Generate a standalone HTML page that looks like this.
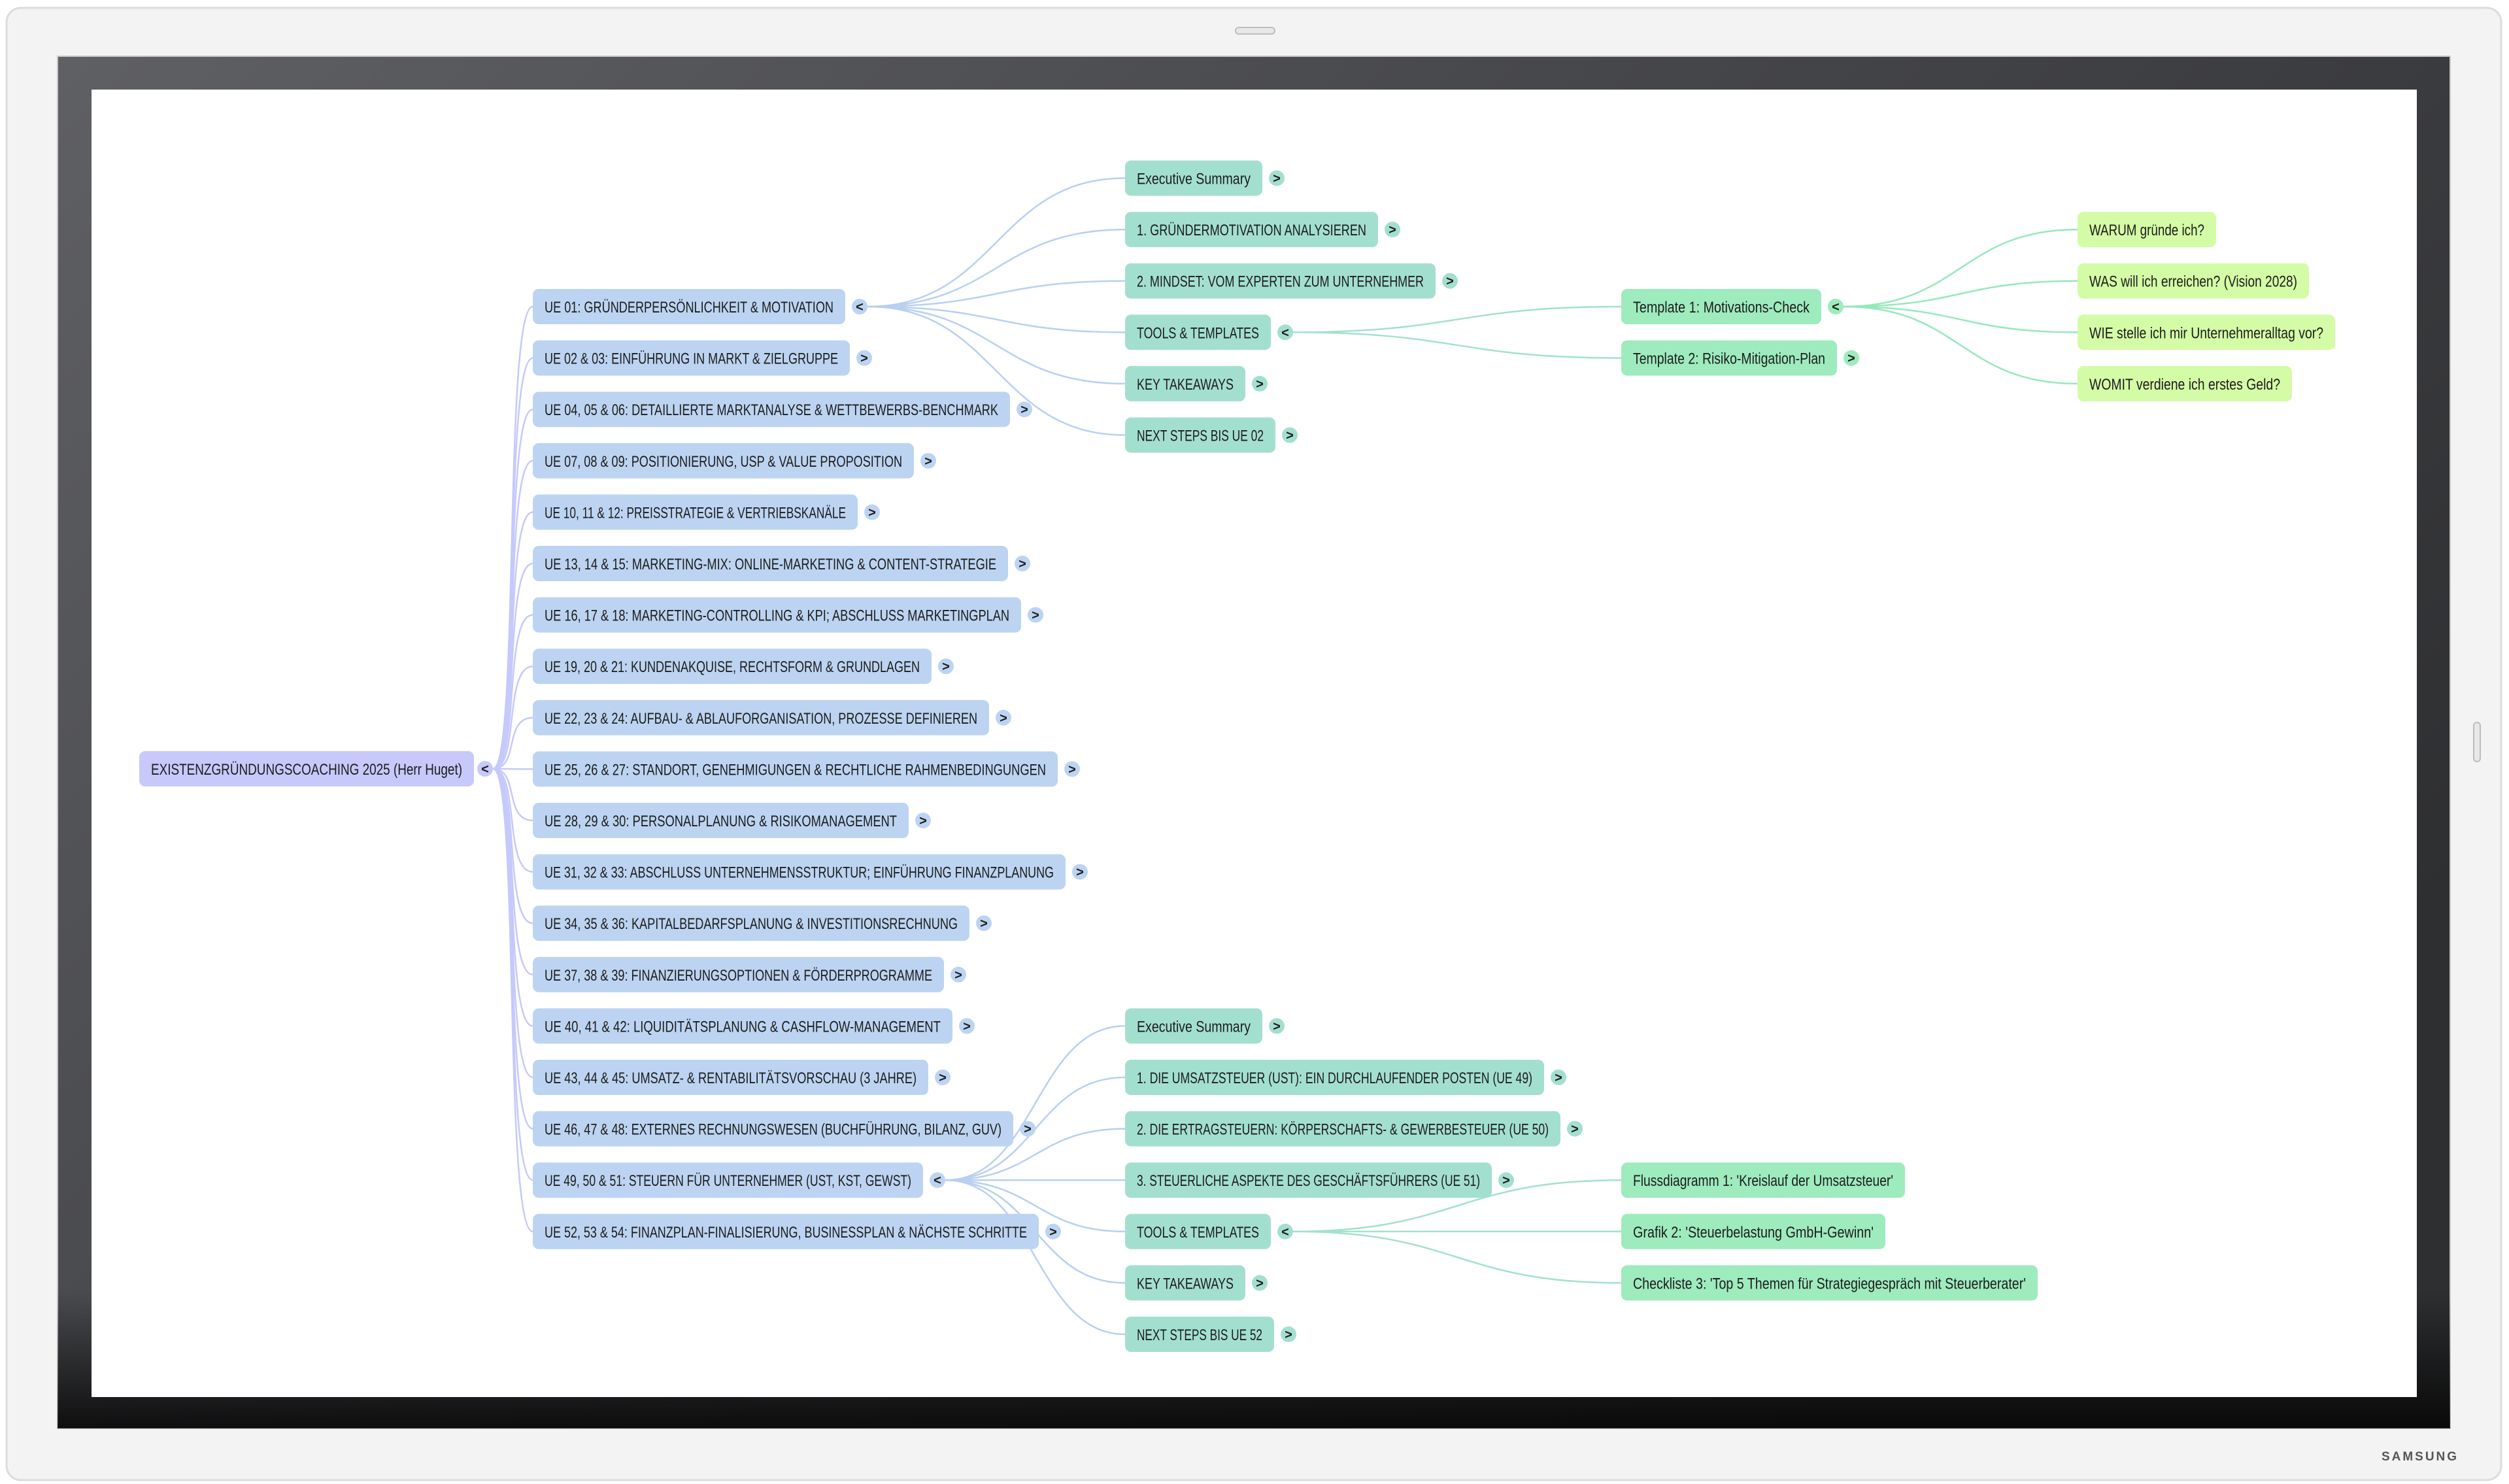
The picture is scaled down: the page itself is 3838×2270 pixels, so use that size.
<!DOCTYPE html>
<html><head><meta charset="utf-8"><style>
html,body{margin:0;padding:0;background:#fff;}
svg{display:block;}
text{font-family:"Liberation Sans",sans-serif;fill:#1c1c1c;}
.t{font-size:24px;}
.c{font-size:20px;font-weight:bold;text-anchor:middle;}
</style></head><body>
<svg width="3838" height="2270" viewBox="0 0 3838 2270" xmlns="http://www.w3.org/2000/svg">
<defs>
<linearGradient id="bz" x1="0" y1="0" x2="1" y2="0.6">
<stop offset="0" stop-color="#5f6064"/><stop offset="0.5" stop-color="#45464a"/><stop offset="1" stop-color="#2e2f31"/>
</linearGradient>
<linearGradient id="bzb" x1="0" y1="0" x2="0" y2="1">
<stop offset="0" stop-color="#000" stop-opacity="0"/><stop offset="0.9" stop-color="#000" stop-opacity="0"/><stop offset="1" stop-color="#000" stop-opacity="0.8"/>
</linearGradient>
</defs>
<rect x="0" y="0" width="3838" height="2270" fill="#fff"/>
<rect x="10" y="12" width="3816" height="2252" rx="22" fill="#f3f3f3" stroke="#dcdcdc" stroke-width="3"/>
<rect x="1890" y="42" width="60" height="10" rx="5" fill="#e8e8e8" stroke="#bdbdbd" stroke-width="2"/>
<rect x="3784" y="1105" width="10" height="60" rx="5" fill="#e8e8e8" stroke="#bdbdbd" stroke-width="2"/>
<text x="3702" y="2234" style="font-size:19px;font-weight:bold;letter-spacing:3px;fill:#555;text-anchor:middle">SAMSUNG</text>
<rect x="88" y="86" width="3660" height="2099" fill="url(#bz)" stroke="#c8c8c8" stroke-width="2"/>
<rect x="88" y="86" width="3660" height="2099" fill="url(#bzb)"/>
<rect x="140" y="137" width="3557" height="2000" fill="#fff"/>

<g fill="none" stroke-width="2.5">
<!-- root to UE -->
<g stroke="#c5c9fb">
<path d="M754,1176 C795,1176 770,469 815,469"/>
<path d="M754,1176 C795,1176 770,547.6 815,547.6"/>
<path d="M754,1176 C795,1176 770,626.2 815,626.2"/>
<path d="M754,1176 C795,1176 770,704.8 815,704.8"/>
<path d="M754,1176 C795,1176 770,783.4 815,783.4"/>
<path d="M754,1176 C795,1176 770,862 815,862"/>
<path d="M754,1176 C795,1176 770,940.6 815,940.6"/>
<path d="M754,1176 C795,1176 770,1019.2 815,1019.2"/>
<path d="M754,1176 C795,1176 770,1097.8 815,1097.8"/>
<path d="M754,1176 C795,1176 770,1176.4 815,1176.4"/>
<path d="M754,1176 C795,1176 770,1255 815,1255"/>
<path d="M754,1176 C795,1176 770,1333.6 815,1333.6"/>
<path d="M754,1176 C795,1176 770,1412.2 815,1412.2"/>
<path d="M754,1176 C795,1176 770,1490.8 815,1490.8"/>
<path d="M754,1176 C795,1176 770,1569.4 815,1569.4"/>
<path d="M754,1176 C795,1176 770,1648 815,1648"/>
<path d="M754,1176 C795,1176 770,1726.6 815,1726.6"/>
<path d="M754,1176 C795,1176 770,1805.2 815,1805.2"/>
<path d="M754,1176 C795,1176 770,1883.8 815,1883.8"/>
</g>
<!-- UE01 to level2 -->
<g stroke="#b8d0f0">
<path d="M1327,469 C1524,469 1524,272.5 1721,272.5"/>
<path d="M1327,469 C1524,469 1524,351.1 1721,351.1"/>
<path d="M1327,469 C1524,469 1524,429.7 1721,429.7"/>
<path d="M1327,469 C1524,469 1524,508.3 1721,508.3"/>
<path d="M1327,469 C1524,469 1524,586.9 1721,586.9"/>
<path d="M1327,469 C1524,469 1524,665.5 1721,665.5"/>
<path d="M1446,1805.2 C1584,1805.2 1584,1569.4 1721,1569.4"/>
<path d="M1446,1805.2 C1584,1805.2 1584,1648 1721,1648"/>
<path d="M1446,1805.2 C1584,1805.2 1584,1726.6 1721,1726.6"/>
<path d="M1446,1805.2 C1584,1805.2 1584,1805.2 1721,1805.2"/>
<path d="M1446,1805.2 C1584,1805.2 1584,1883.8 1721,1883.8"/>
<path d="M1446,1805.2 C1584,1805.2 1584,1962.4 1721,1962.4"/>
<path d="M1446,1805.2 C1584,1805.2 1584,2041 1721,2041"/>
</g>
<g stroke="#a3e0cf">
<path d="M1978,508.3 C2229,508.3 2229,469 2480,469"/>
<path d="M1978,508.3 C2229,508.3 2229,547.6 2480,547.6"/>
<path d="M1978,1883.8 C2229,1883.8 2229,1805.2 2480,1805.2"/>
<path d="M1978,1883.8 C2229,1883.8 2229,1883.8 2480,1883.8"/>
<path d="M1978,1883.8 C2229,1883.8 2229,1962.4 2480,1962.4"/>
</g>
<g stroke="#96e8bb">
<path d="M2820,469 C2999,469 2999,351.1 3178,351.1"/>
<path d="M2820,469 C2999,469 2999,429.7 3178,429.7"/>
<path d="M2820,469 C2999,469 2999,508.3 3178,508.3"/>
<path d="M2820,469 C2999,469 2999,586.9 3178,586.9"/>
</g>
</g>

<!-- root -->
<rect x="213" y="1149" width="512" height="54" rx="9" fill="#c7c9fa"/>
<text class="t" x="231" y="1185" textLength="476" lengthAdjust="spacingAndGlyphs">EXISTENZGRÜNDUNGSCOACHING 2025 (Herr Huget)</text>
<circle cx="742" cy="1176" r="12" fill="#c7c9fa"/><text class="c" x="742" y="1183">&lt;</text>

<!-- UE nodes -->
<g>
<rect x="815" y="442" width="478" height="54" rx="9" fill="#bcd4f1"/><text class="t" x="833" y="478" textLength="442" lengthAdjust="spacingAndGlyphs">UE 01: GRÜNDERPERSÖNLICHKEIT &amp; MOTIVATION</text><circle cx="1315" cy="469" r="12" fill="#bcd4f1"/><text class="c" x="1315" y="476">&lt;</text>
<rect x="815" y="520.6" width="485" height="54" rx="9" fill="#bcd4f1"/><text class="t" x="833" y="556.6" textLength="449" lengthAdjust="spacingAndGlyphs">UE 02 &amp; 03: EINFÜHRUNG IN MARKT &amp; ZIELGRUPPE</text><circle cx="1322" cy="547.6" r="12" fill="#bcd4f1"/><text class="c" x="1322" y="554.6">&gt;</text>
<rect x="815" y="599.2" width="730" height="54" rx="9" fill="#bcd4f1"/><text class="t" x="833" y="635.2" textLength="694" lengthAdjust="spacingAndGlyphs">UE 04, 05 &amp; 06: DETAILLIERTE MARKTANALYSE &amp; WETTBEWERBS-BENCHMARK</text><circle cx="1567" cy="626.2" r="12" fill="#bcd4f1"/><text class="c" x="1567" y="633.2">&gt;</text>
<rect x="815" y="677.8" width="583" height="54" rx="9" fill="#bcd4f1"/><text class="t" x="833" y="713.8" textLength="547" lengthAdjust="spacingAndGlyphs">UE 07, 08 &amp; 09: POSITIONIERUNG, USP &amp; VALUE PROPOSITION</text><circle cx="1420" cy="704.8" r="12" fill="#bcd4f1"/><text class="c" x="1420" y="711.8">&gt;</text>
<rect x="815" y="756.4" width="497" height="54" rx="9" fill="#bcd4f1"/><text class="t" x="833" y="792.4" textLength="461" lengthAdjust="spacingAndGlyphs">UE 10, 11 &amp; 12: PREISSTRATEGIE &amp; VERTRIEBSKANÄLE</text><circle cx="1334" cy="783.4" r="12" fill="#bcd4f1"/><text class="c" x="1334" y="790.4">&gt;</text>
<rect x="815" y="835" width="727" height="54" rx="9" fill="#bcd4f1"/><text class="t" x="833" y="871" textLength="691" lengthAdjust="spacingAndGlyphs">UE 13, 14 &amp; 15: MARKETING-MIX: ONLINE-MARKETING &amp; CONTENT-STRATEGIE</text><circle cx="1564" cy="862" r="12" fill="#bcd4f1"/><text class="c" x="1564" y="869">&gt;</text>
<rect x="815" y="913.6" width="747" height="54" rx="9" fill="#bcd4f1"/><text class="t" x="833" y="949.6" textLength="711" lengthAdjust="spacingAndGlyphs">UE 16, 17 &amp; 18: MARKETING-CONTROLLING &amp; KPI; ABSCHLUSS MARKETINGPLAN</text><circle cx="1584" cy="940.6" r="12" fill="#bcd4f1"/><text class="c" x="1584" y="947.6">&gt;</text>
<rect x="815" y="992.2" width="610" height="54" rx="9" fill="#bcd4f1"/><text class="t" x="833" y="1028.2" textLength="574" lengthAdjust="spacingAndGlyphs">UE 19, 20 &amp; 21: KUNDENAKQUISE, RECHTSFORM &amp; GRUNDLAGEN</text><circle cx="1447" cy="1019.2" r="12" fill="#bcd4f1"/><text class="c" x="1447" y="1026.2">&gt;</text>
<rect x="815" y="1070.8" width="698" height="54" rx="9" fill="#bcd4f1"/><text class="t" x="833" y="1106.8" textLength="662" lengthAdjust="spacingAndGlyphs">UE 22, 23 &amp; 24: AUFBAU- &amp; ABLAUFORGANISATION, PROZESSE DEFINIEREN</text><circle cx="1535" cy="1097.8" r="12" fill="#bcd4f1"/><text class="c" x="1535" y="1104.8">&gt;</text>
<rect x="815" y="1149.4" width="803" height="54" rx="9" fill="#bcd4f1"/><text class="t" x="833" y="1185.4" textLength="767" lengthAdjust="spacingAndGlyphs">UE 25, 26 &amp; 27: STANDORT, GENEHMIGUNGEN &amp; RECHTLICHE RAHMENBEDINGUNGEN</text><circle cx="1640" cy="1176.4" r="12" fill="#bcd4f1"/><text class="c" x="1640" y="1183.4">&gt;</text>
<rect x="815" y="1228" width="575" height="54" rx="9" fill="#bcd4f1"/><text class="t" x="833" y="1264" textLength="539" lengthAdjust="spacingAndGlyphs">UE 28, 29 &amp; 30: PERSONALPLANUNG &amp; RISIKOMANAGEMENT</text><circle cx="1412" cy="1255" r="12" fill="#bcd4f1"/><text class="c" x="1412" y="1262">&gt;</text>
<rect x="815" y="1306.6" width="815" height="54" rx="9" fill="#bcd4f1"/><text class="t" x="833" y="1342.6" textLength="779" lengthAdjust="spacingAndGlyphs">UE 31, 32 &amp; 33: ABSCHLUSS UNTERNEHMENSSTRUKTUR; EINFÜHRUNG FINANZPLANUNG</text><circle cx="1652" cy="1333.6" r="12" fill="#bcd4f1"/><text class="c" x="1652" y="1340.6">&gt;</text>
<rect x="815" y="1385.2" width="668" height="54" rx="9" fill="#bcd4f1"/><text class="t" x="833" y="1421.2" textLength="632" lengthAdjust="spacingAndGlyphs">UE 34, 35 &amp; 36: KAPITALBEDARFSPLANUNG &amp; INVESTITIONSRECHNUNG</text><circle cx="1505" cy="1412.2" r="12" fill="#bcd4f1"/><text class="c" x="1505" y="1419.2">&gt;</text>
<rect x="815" y="1463.8" width="629" height="54" rx="9" fill="#bcd4f1"/><text class="t" x="833" y="1499.8" textLength="593" lengthAdjust="spacingAndGlyphs">UE 37, 38 &amp; 39: FINANZIERUNGSOPTIONEN &amp; FÖRDERPROGRAMME</text><circle cx="1466" cy="1490.8" r="12" fill="#bcd4f1"/><text class="c" x="1466" y="1497.8">&gt;</text>
<rect x="815" y="1542.4" width="642" height="54" rx="9" fill="#bcd4f1"/><text class="t" x="833" y="1578.4" textLength="606" lengthAdjust="spacingAndGlyphs">UE 40, 41 &amp; 42: LIQUIDITÄTSPLANUNG &amp; CASHFLOW-MANAGEMENT</text><circle cx="1479" cy="1569.4" r="12" fill="#bcd4f1"/><text class="c" x="1479" y="1576.4">&gt;</text>
<rect x="815" y="1621" width="605" height="54" rx="9" fill="#bcd4f1"/><text class="t" x="833" y="1657" textLength="569" lengthAdjust="spacingAndGlyphs">UE 43, 44 &amp; 45: UMSATZ- &amp; RENTABILITÄTSVORSCHAU (3 JAHRE)</text><circle cx="1442" cy="1648" r="12" fill="#bcd4f1"/><text class="c" x="1442" y="1655">&gt;</text>
<rect x="815" y="1699.6" width="735" height="54" rx="9" fill="#bcd4f1"/><text class="t" x="833" y="1735.6" textLength="699" lengthAdjust="spacingAndGlyphs">UE 46, 47 &amp; 48: EXTERNES RECHNUNGSWESEN (BUCHFÜHRUNG, BILANZ, GUV)</text><circle cx="1572" cy="1726.6" r="12" fill="#bcd4f1"/><text class="c" x="1572" y="1733.6">&gt;</text>
<rect x="815" y="1778.2" width="597" height="54" rx="9" fill="#bcd4f1"/><text class="t" x="833" y="1814.2" textLength="561" lengthAdjust="spacingAndGlyphs">UE 49, 50 &amp; 51: STEUERN FÜR UNTERNEHMER (UST, KST, GEWST)</text><circle cx="1434" cy="1805.2" r="12" fill="#bcd4f1"/><text class="c" x="1434" y="1812.2">&lt;</text>
<rect x="815" y="1856.8" width="774" height="54" rx="9" fill="#bcd4f1"/><text class="t" x="833" y="1892.8" textLength="738" lengthAdjust="spacingAndGlyphs">UE 52, 53 &amp; 54: FINANZPLAN-FINALISIERUNG, BUSINESSPLAN &amp; NÄCHSTE SCHRITTE</text><circle cx="1611" cy="1883.8" r="12" fill="#bcd4f1"/><text class="c" x="1611" y="1890.8">&gt;</text>
</g>

<!-- level 2 upper -->
<g>
<rect x="1721" y="245.5" width="210" height="54" rx="9" fill="#a3dfcf"/><text class="t" x="1739" y="281.5" textLength="174" lengthAdjust="spacingAndGlyphs">Executive Summary</text><circle cx="1953" cy="272.5" r="12" fill="#a3dfcf"/><text class="c" x="1953" y="279.5">&gt;</text>
<rect x="1721" y="324.1" width="387" height="54" rx="9" fill="#a3dfcf"/><text class="t" x="1739" y="360.1" textLength="351" lengthAdjust="spacingAndGlyphs">1. GRÜNDERMOTIVATION ANALYSIEREN</text><circle cx="2130" cy="351.1" r="12" fill="#a3dfcf"/><text class="c" x="2130" y="358.1">&gt;</text>
<rect x="1721" y="402.7" width="475" height="54" rx="9" fill="#a3dfcf"/><text class="t" x="1739" y="438.7" textLength="439" lengthAdjust="spacingAndGlyphs">2. MINDSET: VOM EXPERTEN ZUM UNTERNEHMER</text><circle cx="2218" cy="429.7" r="12" fill="#a3dfcf"/><text class="c" x="2218" y="436.7">&gt;</text>
<rect x="1721" y="481.3" width="223" height="54" rx="9" fill="#a3dfcf"/><text class="t" x="1739" y="517.3" textLength="187" lengthAdjust="spacingAndGlyphs">TOOLS &amp; TEMPLATES</text><circle cx="1966" cy="508.3" r="12" fill="#a3dfcf"/><text class="c" x="1966" y="515.3">&lt;</text>
<rect x="1721" y="559.9" width="184" height="54" rx="9" fill="#a3dfcf"/><text class="t" x="1739" y="595.9" textLength="148" lengthAdjust="spacingAndGlyphs">KEY TAKEAWAYS</text><circle cx="1927" cy="586.9" r="12" fill="#a3dfcf"/><text class="c" x="1927" y="593.9">&gt;</text>
<rect x="1721" y="638.5" width="230" height="54" rx="9" fill="#a3dfcf"/><text class="t" x="1739" y="674.5" textLength="194" lengthAdjust="spacingAndGlyphs">NEXT STEPS BIS UE 02</text><circle cx="1973" cy="665.5" r="12" fill="#a3dfcf"/><text class="c" x="1973" y="672.5">&gt;</text>
</g>
<!-- level 2 lower -->
<g>
<rect x="1721" y="1542.4" width="210" height="54" rx="9" fill="#a3dfcf"/><text class="t" x="1739" y="1578.4" textLength="174" lengthAdjust="spacingAndGlyphs">Executive Summary</text><circle cx="1953" cy="1569.4" r="12" fill="#a3dfcf"/><text class="c" x="1953" y="1576.4">&gt;</text>
<rect x="1721" y="1621" width="641" height="54" rx="9" fill="#a3dfcf"/><text class="t" x="1739" y="1657" textLength="605" lengthAdjust="spacingAndGlyphs">1. DIE UMSATZSTEUER (UST): EIN DURCHLAUFENDER POSTEN (UE 49)</text><circle cx="2384" cy="1648" r="12" fill="#a3dfcf"/><text class="c" x="2384" y="1655">&gt;</text>
<rect x="1721" y="1699.6" width="666" height="54" rx="9" fill="#a3dfcf"/><text class="t" x="1739" y="1735.6" textLength="630" lengthAdjust="spacingAndGlyphs">2. DIE ERTRAGSTEUERN: KÖRPERSCHAFTS- &amp; GEWERBESTEUER (UE 50)</text><circle cx="2409" cy="1726.6" r="12" fill="#a3dfcf"/><text class="c" x="2409" y="1733.6">&gt;</text>
<rect x="1721" y="1778.2" width="561" height="54" rx="9" fill="#a3dfcf"/><text class="t" x="1739" y="1814.2" textLength="525" lengthAdjust="spacingAndGlyphs">3. STEUERLICHE ASPEKTE DES GESCHÄFTSFÜHRERS (UE 51)</text><circle cx="2304" cy="1805.2" r="12" fill="#a3dfcf"/><text class="c" x="2304" y="1812.2">&gt;</text>
<rect x="1721" y="1856.8" width="223" height="54" rx="9" fill="#a3dfcf"/><text class="t" x="1739" y="1892.8" textLength="187" lengthAdjust="spacingAndGlyphs">TOOLS &amp; TEMPLATES</text><circle cx="1966" cy="1883.8" r="12" fill="#a3dfcf"/><text class="c" x="1966" y="1890.8">&lt;</text>
<rect x="1721" y="1935.4" width="184" height="54" rx="9" fill="#a3dfcf"/><text class="t" x="1739" y="1971.4" textLength="148" lengthAdjust="spacingAndGlyphs">KEY TAKEAWAYS</text><circle cx="1927" cy="1962.4" r="12" fill="#a3dfcf"/><text class="c" x="1927" y="1969.4">&gt;</text>
<rect x="1721" y="2014" width="228" height="54" rx="9" fill="#a3dfcf"/><text class="t" x="1739" y="2050" textLength="192" lengthAdjust="spacingAndGlyphs">NEXT STEPS BIS UE 52</text><circle cx="1971" cy="2041" r="12" fill="#a3dfcf"/><text class="c" x="1971" y="2048">&gt;</text>
</g>
<!-- level 3 -->
<g>
<rect x="2480" y="442" width="306" height="54" rx="9" fill="#9eebbe"/><text class="t" x="2498" y="478" textLength="270" lengthAdjust="spacingAndGlyphs">Template 1: Motivations-Check</text><circle cx="2808" cy="469" r="12" fill="#9eebbe"/><text class="c" x="2808" y="476">&lt;</text>
<rect x="2480" y="520.6" width="330" height="54" rx="9" fill="#9eebbe"/><text class="t" x="2498" y="556.6" textLength="294" lengthAdjust="spacingAndGlyphs">Template 2: Risiko-Mitigation-Plan</text><circle cx="2832" cy="547.6" r="12" fill="#9eebbe"/><text class="c" x="2832" y="554.6">&gt;</text>
<rect x="2480" y="1778.2" width="434" height="54" rx="9" fill="#9eebbe"/><text class="t" x="2498" y="1814.2" textLength="398" lengthAdjust="spacingAndGlyphs">Flussdiagramm 1: 'Kreislauf der Umsatzsteuer'</text>
<rect x="2480" y="1856.8" width="404" height="54" rx="9" fill="#9eebbe"/><text class="t" x="2498" y="1892.8" textLength="368" lengthAdjust="spacingAndGlyphs">Grafik 2: 'Steuerbelastung GmbH-Gewinn'</text>
<rect x="2480" y="1935.4" width="637" height="54" rx="9" fill="#9eebbe"/><text class="t" x="2498" y="1971.4" textLength="601" lengthAdjust="spacingAndGlyphs">Checkliste 3: 'Top 5 Themen für Strategiegespräch mit Steuerberater'</text>
</g>
<!-- level 4 -->
<g>
<rect x="3178" y="324.1" width="212" height="54" rx="9" fill="#d4fba6"/><text class="t" x="3196" y="360.1" textLength="176" lengthAdjust="spacingAndGlyphs">WARUM gründe ich?</text>
<rect x="3178" y="402.7" width="354" height="54" rx="9" fill="#d4fba6"/><text class="t" x="3196" y="438.7" textLength="318" lengthAdjust="spacingAndGlyphs">WAS will ich erreichen? (Vision 2028)</text>
<rect x="3178" y="481.3" width="394" height="54" rx="9" fill="#d4fba6"/><text class="t" x="3196" y="517.3" textLength="358" lengthAdjust="spacingAndGlyphs">WIE stelle ich mir Unternehmeralltag vor?</text>
<rect x="3178" y="559.9" width="328" height="54" rx="9" fill="#d4fba6"/><text class="t" x="3196" y="595.9" textLength="292" lengthAdjust="spacingAndGlyphs">WOMIT verdiene ich erstes Geld?</text>
</g>
</svg>
</body></html>
